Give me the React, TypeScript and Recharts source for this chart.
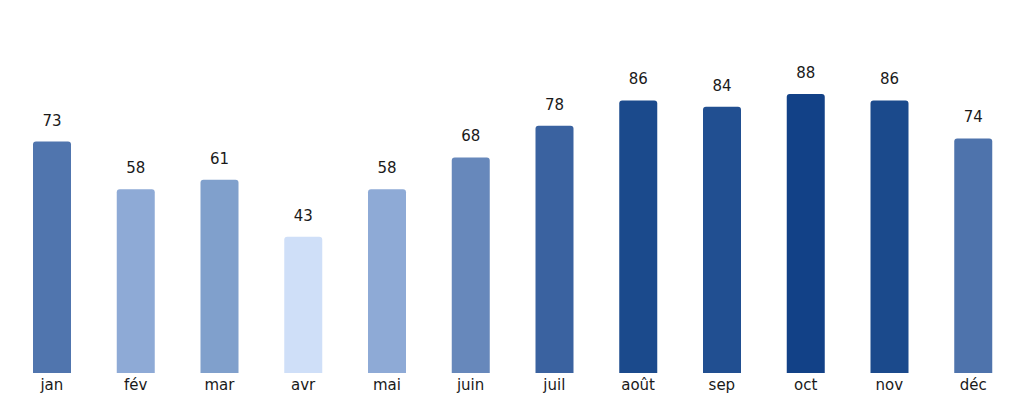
import React from "react";
import { BarChart, Bar, XAxis, YAxis, Cell, LabelList } from "recharts";

const months = ["jan", "fév", "mar", "avr", "mai", "juin", "juil", "août", "sep", "oct", "nov", "déc"];
const values = [73, 58, 61, 43, 58, 68, 78, 86, 84, 88, 86, 74];
const colors = [
  "#5075ae", "#8eaad6", "#80a0cc", "#cfdff8", "#8eaad6", "#6788bb",
  "#3a62a0", "#1b4a8c", "#214f91", "#124187", "#1b4a8c", "#4e73ac",
];

const data = months.map((m, i) => ({ month: m, value: values[i] }));

export default function App() {
  return (
    <div style={{ width: 1008, height: 388, fontFamily: "DejaVu Sans" }}>
      <BarChart
        width={1008}
        height={388}
        data={data}
        margin={{ top: 48, right: 1, bottom: 0, left: 2 }}
      >
        <XAxis
          dataKey="month"
          axisLine={false}
          tickLine={false}
          tickSize={0}
          tickMargin={6}
          height={23}
          interval={0}
          tick={{ fill: "#1a1a1a", fontSize: 15, fontFamily: "DejaVu Sans" }}
        />
        <YAxis hide domain={[0, 100]} />
        <Bar dataKey="value" barSize={38} radius={[3, 3, 0, 0]} isAnimationActive={false}>
          {data.map((d, i) => (
            <Cell key={d.month} fill={colors[i]} />
          ))}
          <LabelList
            dataKey="value"
            position="top"
            offset={16}
            style={{ fill: "#1a1a1a", fontSize: 15, fontFamily: "DejaVu Sans" }}
          />
        </Bar>
      </BarChart>
    </div>
  );
}
